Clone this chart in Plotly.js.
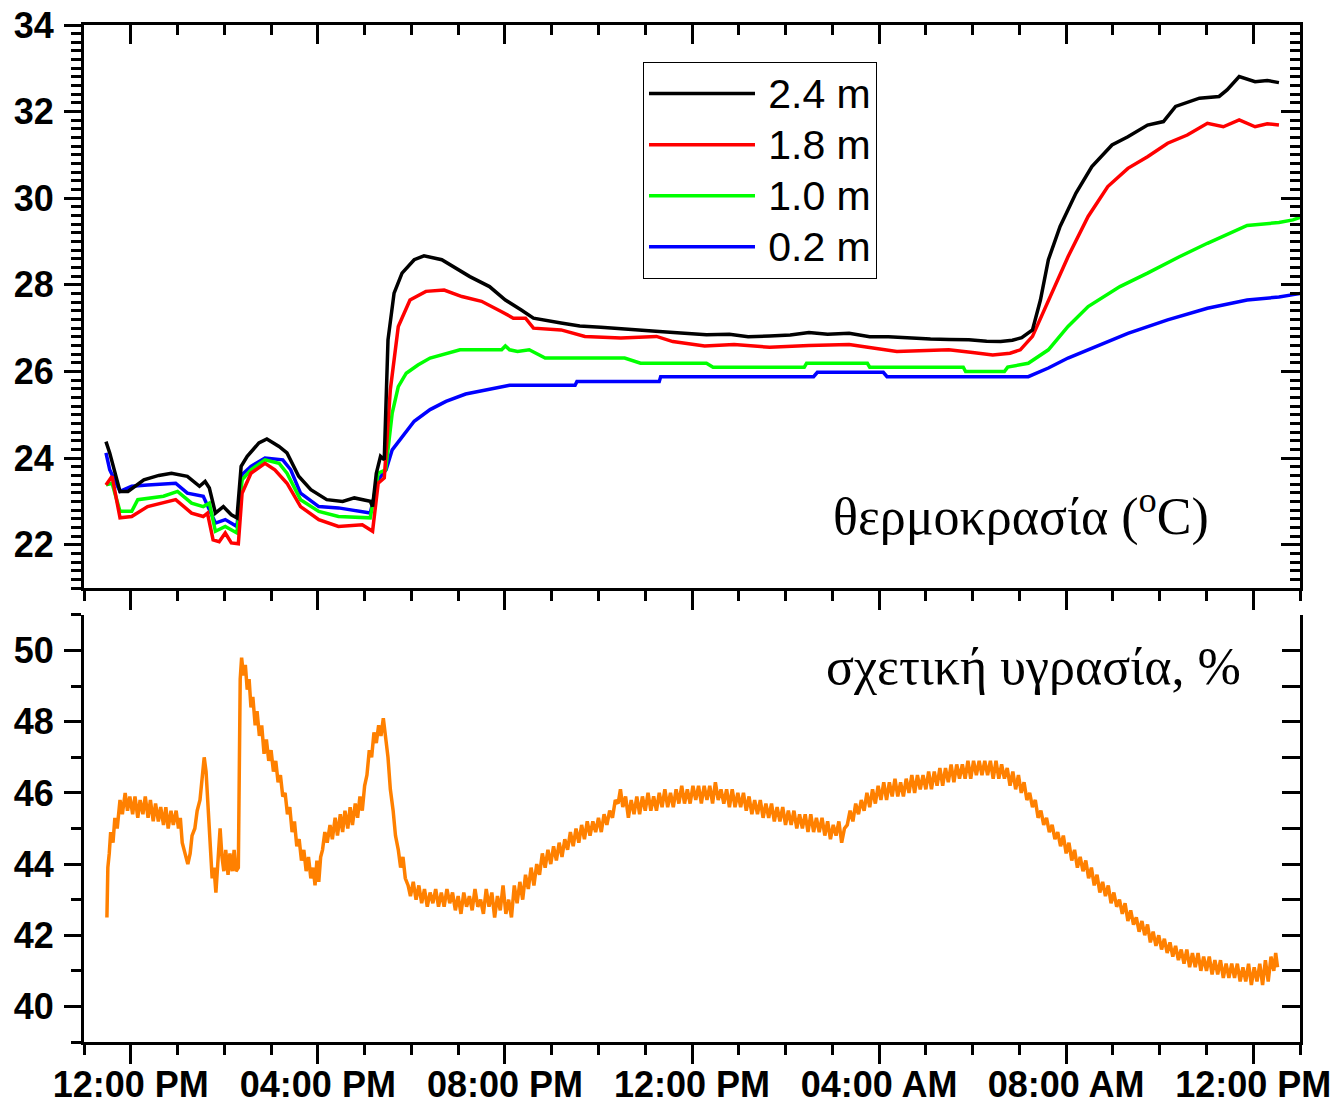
<!DOCTYPE html>
<html>
<head>
<meta charset="utf-8">
<script src="https://cdn.plot.ly/plotly-3.0.1.min.js"></script>
<style>html,body{margin:0;padding:0;background:#fff;}#chart{width:1336px;height:1107px;}</style>
</head>
<body>
<div id="chart"></div>
<script>
// ---- x axis (hours since midnight of day 1) ----
const tickHours = [12, 16, 20, 24, 28, 32, 36];
const tickLabels = ['12:00 PM', '04:00 PM', '08:00 PM', '12:00 PM', '04:00 AM', '08:00 AM', '12:00 PM'];

// ---- temperature, 2.4 m ----
const time24 = [11.47,11.55,11.77,11.94,12.28,12.6,12.87,13.21,13.47,13.59,13.68,13.81,13.98,14.15,14.27,14.36,14.49,14.74,14.91,15.17,15.34,15.59,15.85,16.19,16.53,16.78,17.12,17.17,17.25,17.34,17.42,17.46,17.5,17.63,17.8,18.06,18.27,18.65,18.91,19.25,19.67,20.01,20.35,20.61,21.2,21.6,22.05,22.5,22.9,23.3,23.76,24.31,24.8,25.2,25.66,26.1,26.5,26.9,27.36,27.8,28.2,28.64,29.1,29.5,29.92,30.3,30.6,30.85,31.05,31.28,31.45,31.62,31.87,32.21,32.55,32.98,33.32,33.74,34.08,34.34,34.85,35.27,35.44,35.7,36.04,36.3,36.55];
const temp24 = [24.38,24.12,23.23,23.23,23.5,23.6,23.65,23.58,23.35,23.46,23.31,22.73,22.88,22.69,22.62,23.81,24.04,24.35,24.44,24.27,24.12,23.58,23.27,23.04,23.0,23.08,23.0,22.88,23.65,24.04,23.96,25.2,26.73,27.81,28.27,28.58,28.67,28.58,28.42,28.19,27.96,27.65,27.42,27.23,27.12,27.05,27.02,26.98,26.95,26.92,26.89,26.85,26.86,26.8,26.82,26.84,26.9,26.86,26.88,26.8,26.8,26.77,26.75,26.74,26.73,26.7,26.69,26.72,26.78,26.96,27.65,28.58,29.35,30.12,30.73,31.23,31.42,31.69,31.77,32.12,32.31,32.35,32.5,32.81,32.69,32.72,32.67];

// ---- temperature, 1.8 m ----
const time18 = [11.47,11.6,11.77,12.02,12.36,12.96,13.3,13.55,13.64,13.76,13.89,14.02,14.15,14.3,14.38,14.57,14.87,15.08,15.34,15.63,16.02,16.44,16.95,17.17,17.29,17.42,17.47,17.55,17.72,17.97,18.31,18.7,19.08,19.5,19.93,20.18,20.44,20.61,21.2,21.71,22.48,23.24,23.59,24.27,24.9,25.66,26.5,27.36,28.38,29.49,30.0,30.43,30.8,31.02,31.28,31.62,32.04,32.47,32.89,33.32,33.74,34.17,34.59,35.02,35.36,35.7,36.04,36.3,36.55];
const temp18 = [23.38,23.58,22.62,22.65,22.88,23.04,22.73,22.65,22.73,22.11,22.07,22.27,22.04,22.02,23.19,23.65,23.88,23.73,23.42,22.88,22.58,22.42,22.46,22.31,23.42,23.54,24.3,25.58,27.04,27.65,27.85,27.88,27.73,27.62,27.38,27.23,27.23,27.0,26.96,26.81,26.77,26.81,26.69,26.59,26.62,26.56,26.6,26.62,26.46,26.5,26.44,26.38,26.42,26.5,26.81,27.65,28.65,29.58,30.27,30.69,30.96,31.27,31.46,31.73,31.65,31.81,31.65,31.72,31.69];

// ---- temperature, 1.0 m ----
const time10 = [11.47,11.6,11.77,12.02,12.15,12.7,13.0,13.3,13.55,13.68,13.81,14.02,14.27,14.38,14.57,14.87,15.17,15.34,15.63,16.02,16.44,17.12,17.29,17.45,17.59,17.72,17.89,18.14,18.4,18.65,19.04,19.93,20.01,20.1,20.27,20.52,20.7,20.86,22.56,22.73,22.9,24.31,24.45,26.4,26.45,27.75,27.8,29.8,29.85,30.68,30.75,31.19,31.62,32.04,32.47,33.15,33.74,34.42,35.02,35.87,36.55,36.85,37.0];
const temp10 = [23.38,23.42,22.77,22.77,23.04,23.12,23.23,22.96,22.88,22.96,22.31,22.42,22.27,23.5,23.73,23.96,23.88,23.65,23.04,22.77,22.65,22.62,23.65,23.73,25.04,25.65,25.96,26.15,26.31,26.38,26.5,26.5,26.59,26.5,26.46,26.5,26.4,26.31,26.31,26.25,26.19,26.19,26.1,26.1,26.19,26.19,26.1,26.1,26.0,26.0,26.1,26.19,26.5,27.04,27.5,27.96,28.27,28.65,28.96,29.37,29.44,29.5,29.56];

// ---- temperature, 0.2 m ----
const time02 = [11.47,11.55,11.77,12.02,12.36,12.96,13.21,13.55,13.81,14.02,14.27,14.38,14.57,14.87,15.25,15.42,15.63,16.02,16.44,17.12,17.29,17.46,17.59,17.8,18.06,18.4,18.74,19.16,19.59,20.1,21.5,21.54,23.3,23.33,26.6,26.68,28.09,28.17,31.19,31.62,32.04,32.47,33.32,34.17,35.02,35.87,36.55,36.89,37.0];
const temp02 = [24.12,23.73,23.23,23.35,23.38,23.42,23.19,23.12,22.5,22.58,22.42,23.62,23.81,24.0,23.96,23.73,23.19,22.88,22.85,22.73,23.5,23.73,24.19,24.5,24.85,25.12,25.31,25.48,25.58,25.68,25.68,25.77,25.77,25.88,25.88,25.98,25.98,25.88,25.88,26.08,26.31,26.5,26.88,27.19,27.46,27.65,27.72,27.78,27.8];

// ---- relative humidity (%) ----
const rhTime = [11.49,11.51,11.54,11.57,11.62,11.66,11.71,11.77,11.82,11.88,11.93,11.98,12.04,12.09,12.15,12.2,12.26,12.31,12.37,12.42,12.48,12.53,12.59,12.64,12.7,12.75,12.8,12.86,12.91,12.97,13.02,13.06,13.1,13.16,13.22,13.27,13.31,13.37,13.42,13.48,13.53,13.57,13.61,13.65,13.69,13.74,13.78,13.82,13.86,13.91,13.95,13.99,14.03,14.08,14.12,14.17,14.21,14.25,14.3,14.34,14.37,14.41,14.45,14.49,14.53,14.57,14.61,14.66,14.7,14.75,14.8,14.85,14.9,14.95,15.0,15.05,15.1,15.15,15.2,15.25,15.3,15.35,15.4,15.45,15.5,15.55,15.6,15.65,15.7,15.75,15.8,15.85,15.9,15.94,15.98,16.02,16.06,16.1,16.15,16.2,16.26,16.31,16.37,16.42,16.48,16.53,16.58,16.64,16.69,16.74,16.8,16.85,16.9,16.95,17.0,17.05,17.1,17.15,17.2,17.25,17.3,17.35,17.4,17.45,17.5,17.55,17.61,17.66,17.72,17.77,17.82,17.87,17.93,17.98,18.04,18.1,18.16,18.22,18.28,18.34,18.4,18.46,18.52,18.58,18.64,18.7,18.76,18.82,18.88,18.94,19.0,19.06,19.12,19.18,19.24,19.3,19.36,19.42,19.48,19.54,19.6,19.66,19.72,19.78,19.84,19.9,19.96,20.02,20.08,20.14,20.2,20.26,20.32,20.38,20.44,20.5,20.56,20.62,20.68,20.74,20.8,20.86,20.92,20.98,21.04,21.1,21.16,21.22,21.28,21.34,21.4,21.46,21.52,21.58,21.64,21.7,21.76,21.82,21.88,21.94,22.0,22.06,22.12,22.18,22.24,22.3,22.36,22.42,22.47,22.52,22.58,22.64,22.7,22.76,22.82,22.88,22.94,23.0,23.06,23.12,23.18,23.24,23.3,23.36,23.42,23.48,23.54,23.6,23.66,23.72,23.78,23.84,23.9,23.96,24.02,24.08,24.14,24.2,24.26,24.32,24.38,24.44,24.5,24.56,24.62,24.68,24.74,24.8,24.86,24.92,24.98,25.04,25.1,25.16,25.22,25.28,25.34,25.4,25.46,25.52,25.58,25.64,25.7,25.76,25.82,25.88,25.94,26.0,26.06,26.12,26.18,26.24,26.3,26.36,26.42,26.48,26.54,26.6,26.66,26.72,26.78,26.84,26.9,26.96,27.02,27.08,27.14,27.2,27.26,27.32,27.38,27.44,27.5,27.56,27.62,27.68,27.74,27.8,27.86,27.92,27.98,28.04,28.1,28.16,28.22,28.28,28.34,28.4,28.46,28.52,28.58,28.64,28.7,28.76,28.82,28.88,28.94,29.0,29.06,29.12,29.18,29.24,29.3,29.36,29.42,29.48,29.54,29.6,29.66,29.72,29.78,29.84,29.9,29.96,30.02,30.08,30.14,30.2,30.26,30.32,30.38,30.44,30.5,30.56,30.62,30.68,30.74,30.8,30.86,30.92,30.98,31.04,31.1,31.16,31.22,31.28,31.34,31.4,31.46,31.52,31.58,31.64,31.7,31.76,31.82,31.88,31.94,32.0,32.06,32.12,32.18,32.24,32.3,32.36,32.42,32.48,32.54,32.6,32.66,32.72,32.78,32.84,32.9,32.96,33.02,33.08,33.14,33.2,33.26,33.32,33.38,33.44,33.5,33.56,33.62,33.68,33.74,33.8,33.86,33.92,33.98,34.04,34.1,34.16,34.22,34.28,34.34,34.4,34.46,34.52,34.58,34.64,34.7,34.76,34.82,34.88,34.94,35.0,35.06,35.12,35.18,35.24,35.3,35.36,35.42,35.48,35.54,35.6,35.66,35.72,35.78,35.84,35.9,35.96,36.02,36.08,36.14,36.2,36.26,36.32,36.38,36.44,36.48,36.52];
const rhValue = [42.5,43.9,44.3,44.9,44.6,45.3,45.0,45.8,45.4,46.0,45.5,45.9,45.4,45.9,45.3,45.8,45.4,45.9,45.3,45.8,45.2,45.7,45.2,45.6,45.1,45.6,45.0,45.5,45.1,45.5,45.0,45.3,44.6,44.3,44.0,44.3,44.8,45.0,45.5,45.8,46.6,47.0,46.6,45.6,44.6,43.6,43.9,43.2,44.0,45.0,44.2,43.8,44.4,43.7,44.3,43.8,44.4,43.8,43.9,49.2,49.8,49.3,49.6,48.9,49.2,48.4,48.7,47.9,48.3,47.6,47.9,47.1,47.5,46.9,47.2,46.6,46.9,46.3,46.5,45.9,46.0,45.4,45.6,44.9,45.2,44.5,44.7,44.1,44.4,43.8,44.2,43.6,43.9,43.4,44.1,43.5,44.2,44.4,44.9,44.6,45.1,44.7,45.3,44.8,45.4,44.9,45.5,45.0,45.6,45.1,45.7,45.3,45.9,45.5,46.2,46.5,47.2,47.0,47.7,47.4,47.9,47.6,48.1,47.6,47.0,46.1,45.5,44.8,44.4,43.9,44.2,43.6,43.4,43.1,43.5,43.0,43.4,42.9,43.3,42.8,43.2,42.9,43.3,42.8,43.2,42.8,43.3,42.9,43.2,42.7,43.1,42.6,43.2,42.8,43.1,42.7,43.3,42.8,43.0,42.6,43.3,42.8,43.2,42.5,43.1,42.7,43.4,42.6,43.0,42.5,43.4,42.9,43.5,43.0,43.7,43.3,43.9,43.4,44.0,43.7,44.3,43.9,44.4,44.0,44.5,44.1,44.6,44.2,44.7,44.4,44.9,44.5,45.0,44.6,45.1,44.7,45.2,44.8,45.2,44.9,45.3,44.9,45.4,45.1,45.5,45.3,45.8,45.7,46.1,45.6,45.9,45.3,45.8,45.4,45.9,45.4,45.9,45.5,46.0,45.5,45.9,45.5,46.0,45.6,46.1,45.6,46.0,45.6,46.1,45.7,46.2,45.7,46.1,45.7,46.2,45.8,46.2,45.7,46.2,45.8,46.2,45.7,46.3,45.8,46.1,45.7,46.1,45.6,46.1,45.6,46.0,45.6,46.0,45.5,45.9,45.4,45.8,45.4,45.8,45.3,45.7,45.3,45.7,45.2,45.6,45.2,45.6,45.1,45.5,45.1,45.5,45.0,45.4,45.0,45.4,44.9,45.4,44.9,45.3,44.9,45.3,44.8,45.2,44.7,45.1,44.8,45.2,44.6,45.0,45.1,45.5,45.2,45.7,45.4,45.8,45.5,46.0,45.6,46.1,45.7,46.2,45.8,46.3,45.8,46.3,45.9,46.4,45.9,46.3,45.9,46.4,46.0,46.5,46.0,46.5,46.1,46.5,46.1,46.6,46.1,46.6,46.2,46.7,46.2,46.7,46.3,46.8,46.3,46.8,46.4,46.8,46.4,46.9,46.4,46.9,46.5,46.9,46.5,46.9,46.5,46.9,46.4,46.9,46.4,46.8,46.4,46.7,46.2,46.6,46.1,46.5,46.0,46.3,45.8,46.0,45.6,45.8,45.3,45.5,45.1,45.3,44.9,45.1,44.7,44.9,44.5,44.8,44.3,44.6,44.1,44.4,43.9,44.2,43.8,44.1,43.6,43.9,43.4,43.7,43.2,43.5,43.1,43.4,42.9,43.2,42.8,43.0,42.6,42.9,42.4,42.7,42.3,42.5,42.1,42.4,42.0,42.3,41.8,42.1,41.7,42.0,41.6,41.9,41.5,41.8,41.4,41.7,41.3,41.6,41.2,41.6,41.1,41.5,41.1,41.5,41.0,41.4,41.0,41.4,40.9,41.3,40.9,41.3,40.8,41.2,40.8,41.2,40.8,41.2,40.7,41.1,40.7,41.2,40.6,41.1,40.7,41.2,40.6,41.3,40.7,41.4,41.0,41.5,41.1];

const seriesNames = ['2.4 m', '1.8 m', '1.0 m', '0.2 m'];
const seriesColors = ['#000000', '#ff0000', '#00ff00', '#0000ff'];

const tickFont = {family: 'Liberation Sans, Arial, sans-serif', size: 36, color: '#000', weight: 700};
const xRange = [11, 37];
const legendLabel = (s) => '<span style="font-size:41px">\u2009' + s + '</span>';

const traces = [
  {x: time02, y: temp02, name: legendLabel(seriesNames[3]), xaxis: 'x2', yaxis: 'y', mode: 'lines', line: {color: seriesColors[3], width: 3.5}},
  {x: time10, y: temp10, name: legendLabel(seriesNames[2]), xaxis: 'x2', yaxis: 'y', mode: 'lines', line: {color: seriesColors[2], width: 3.5}},
  {x: time18, y: temp18, name: legendLabel(seriesNames[1]), xaxis: 'x2', yaxis: 'y', mode: 'lines', line: {color: seriesColors[1], width: 3.5}},
  {x: time24, y: temp24, name: legendLabel(seriesNames[0]), xaxis: 'x2', yaxis: 'y', mode: 'lines', line: {color: seriesColors[0], width: 3.5}},
  {x: rhTime, y: rhValue, name: 'RH', xaxis: 'x', yaxis: 'y2', mode: 'lines', line: {color: '#ff8000', width: 3.5}, showlegend: false},
  {x: [null], y: [null], xaxis: 'x3', yaxis: 'y', showlegend: false, hoverinfo: 'skip', mode: 'lines'},
  {x: [null], y: [null], xaxis: 'x2', yaxis: 'y3', showlegend: false, hoverinfo: 'skip', mode: 'lines'},
  {x: [null], y: [null], xaxis: 'x', yaxis: 'y4', showlegend: false, hoverinfo: 'skip', mode: 'lines'}
];

const axLine = {showline: true, linewidth: 3, linecolor: '#000', showgrid: false, zeroline: false, tickcolor: '#000', tickwidth: 3};
const xMinor = (dir) => ({tickmode: 'linear', tick0: 11, dtick: 1, ticks: dir, ticklen: 10, tickwidth: 3, tickcolor: '#000', showgrid: false});

const layout = {
  width: 1336, height: 1107,
  margin: {l: 84, r: 36, t: 25, b: 65},
  paper_bgcolor: '#fff', plot_bgcolor: 'rgba(0,0,0,0)',
  showlegend: true,
  legend: {
    x: 0.4597, y: 0.9636, xanchor: 'left', yanchor: 'top',
    bgcolor: '#fff', bordercolor: '#000', borderwidth: 1,
    font: {family: 'Liberation Sans, Arial, sans-serif', size: 37, color: '#000'},
    itemwidth: 106, traceorder: 'reversed', tracegroupgap: 0
  },
  xaxis: Object.assign({}, axLine, {
    domain: [0, 1], anchor: 'y2', range: xRange,
    tickmode: 'array', tickvals: tickHours, ticktext: tickLabels,
    ticks: 'outside', ticklen: 19, tickfont: tickFont, ticklabelstandoff: -10,
    minor: xMinor('outside')
  }),
  xaxis2: Object.assign({}, axLine, {
    domain: [0, 1], anchor: 'y', range: xRange,
    tickmode: 'array', tickvals: tickHours, showticklabels: false,
    ticks: 'outside', ticklen: 19,
    minor: xMinor('outside')
  }),
  xaxis3: Object.assign({}, axLine, {
    overlaying: 'x2', side: 'top', anchor: 'y', range: xRange,
    tickmode: 'array', tickvals: tickHours, showticklabels: false,
    ticks: 'inside', ticklen: 19,
    minor: xMinor('inside')
  }),
  yaxis: Object.assign({}, axLine, {
    domain: [0.4464, 1], anchor: 'x2', range: [21, 34],
    tickmode: 'linear', tick0: 22, dtick: 2,
    ticks: 'outside', ticklen: 17, tickfont: tickFont, ticklabelstandoff: 3,
    minor: {tickmode: 'linear', tick0: 21, dtick: 0.2, ticks: 'outside', ticklen: 10, tickwidth: 3, tickcolor: '#000', showgrid: false}
  }),
  yaxis3: Object.assign({}, axLine, {
    overlaying: 'y', side: 'right', anchor: 'x2', range: [21, 34],
    tickmode: 'linear', tick0: 22, dtick: 2, showticklabels: false,
    ticks: 'inside', ticklen: 19,
    minor: {tickmode: 'linear', tick0: 21, dtick: 0.2, ticks: 'inside', ticklen: 10, tickwidth: 3, tickcolor: '#000', showgrid: false}
  }),
  yaxis2: Object.assign({}, axLine, {
    domain: [0, 0.4199], anchor: 'x', range: [39, 51],
    tickmode: 'linear', tick0: 40, dtick: 2,
    ticks: 'outside', ticklen: 17, tickfont: tickFont, ticklabelstandoff: 3,
    minor: {tickmode: 'linear', tick0: 39, dtick: 1, ticks: 'outside', ticklen: 10, tickwidth: 3, tickcolor: '#000', showgrid: false}
  }),
  yaxis4: Object.assign({}, axLine, {
    overlaying: 'y2', side: 'right', anchor: 'x', range: [39, 51],
    tickmode: 'linear', tick0: 39, dtick: 1, showticklabels: false,
    ticks: 'inside', ticklen: 18
  }),
  annotations: [
    {text: 'θερμοκρασία (<sup>o</sup>C)', xref: 'paper', yref: 'paper', x: 0.7706, y: 0.5202,
     xanchor: 'center', yanchor: 'middle', showarrow: false,
     font: {family: 'Liberation Serif, Times New Roman, serif', size: 52, color: '#000'}},
    {text: 'σχετική υγρασία, %', xref: 'paper', yref: 'paper', x: 0.7812, y: 0.3697,
     xanchor: 'center', yanchor: 'middle', showarrow: false,
     font: {family: 'Liberation Serif, Times New Roman, serif', size: 52, color: '#000'}}
  ]
};

Plotly.newPlot('chart', traces, layout, {staticPlot: true, displayModeBar: false});
</script>
</body>
</html>
